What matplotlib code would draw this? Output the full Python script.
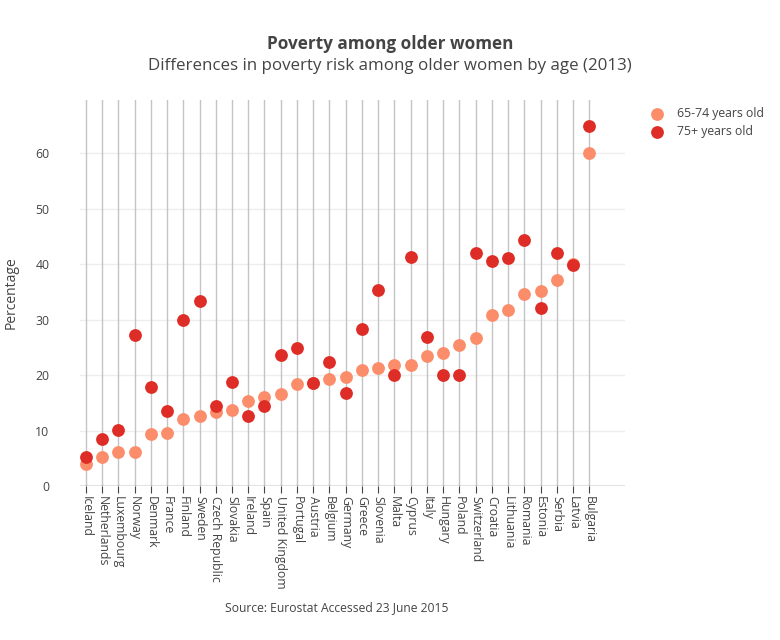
import matplotlib
matplotlib.use("Agg")
import matplotlib.pyplot as plt

countries = ["Iceland", "Netherlands", "Luxembourg", "Norway", "Denmark", "France",
             "Finland", "Sweden", "Czech Republic", "Slovakia", "Ireland", "Spain",
             "United Kingdom", "Portugal", "Austria", "Belgium", "Germany", "Greece",
             "Slovenia", "Malta", "Cyprus", "Italy", "Hungary", "Poland", "Switzerland",
             "Croatia", "Lithuania", "Romania", "Estonia", "Serbia", "Latvia", "Bulgaria"]
age_65_74 = [3.9, 5.3, 6.1, 6.1, 9.4, 9.5, 12.0, 12.7, 13.3, 13.7, 15.4, 16.0,
             16.5, 18.4, 18.6, 19.3, 19.7, 20.9, 21.3, 21.9, 21.9, 23.5, 23.9, 25.4,
             26.6, 30.8, 31.8, 34.6, 35.1, 37.1, 40.0, 60.0]
age_75_plus = [5.2, 8.5, 10.1, 27.3, 17.8, 13.5, 29.9, 33.3, 14.5, 18.7, 12.6, 14.5,
               23.6, 24.9, 18.6, 22.3, 16.8, 28.3, 35.4, 20.1, 41.3, 26.8, 20.1, 20.0,
               42.0, 40.5, 41.1, 44.4, 32.1, 42.0, 39.8, 65.0]
y_ticks = [0, 10, 20, 30, 40, 50, 60]

n = len(countries)

plt.rcParams['font.family'] = ['Open Sans', 'DejaVu Sans']
fig = plt.figure(figsize=(7.8, 6.4), dpi=100)
W, H = 780, 640
ax = fig.add_axes([80 / W, (H - 486) / H, 545 / W, 386 / H])

x = list(range(n))
ax.scatter(x, age_65_74, s=85, color="#fc8d6b", label="65-74 years old", zorder=3, linewidths=0)
ax.scatter(x, age_75_plus, s=85, color="#de2d26", label="75+ years old", zorder=4, linewidths=0)

ax.set_xlim(-0.36, n - 1 + 2.2)
ax.set_ylim(0, 69.6)
ax.set_xticks(x)
ax.set_xticklabels(countries, rotation=-90, fontsize=8.8, color="#444444")
ax.set_yticks(y_ticks)
ax.set_yticklabels([str(v) for v in y_ticks], fontsize=8.8, color="#444444")

for xi in x:
    ax.axvline(xi, color="#c4c4c4", lw=1.0, zorder=1)
for yv in y_ticks[1:]:
    ax.axhline(yv, color="#eeeeee", lw=1.0, zorder=0)
ax.axhline(0, color="#444444", lw=1.0, zorder=2, alpha=0.8)

for s in ax.spines.values():
    s.set_visible(False)
ax.tick_params(axis="y", length=0, pad=22)
ax.tick_params(axis="x", length=5, color="#444444", pad=2, direction="out")

ax.set_ylabel("Percentage", fontsize=10, color="#444444", labelpad=12)

fig.text(390 / W, 1 - 44 / H, "Poverty among older women", ha="center", va="center",
         fontsize=12.3, fontweight="bold", color="#444444")
fig.text(390 / W, 1 - 66 / H, "Differences in poverty risk among older women by age (2013)",
         ha="center", va="center", fontsize=12.2, color="#444444")
fig.text(337 / W, 1 - 608 / H, "Source: Eurostat Accessed 23 June 2015", ha="center",
         va="center", fontsize=8.7, color="#444444")

leg = fig.legend(loc="upper left", bbox_to_anchor=(634 / W, 1 - 96 / H), frameon=False,
                 fontsize=8.8, handletextpad=0.6, labelspacing=0.45, markerscale=1.0)
for t in leg.get_texts():
    t.set_color("#444444")

fig.savefig("out.png", dpi=100)
